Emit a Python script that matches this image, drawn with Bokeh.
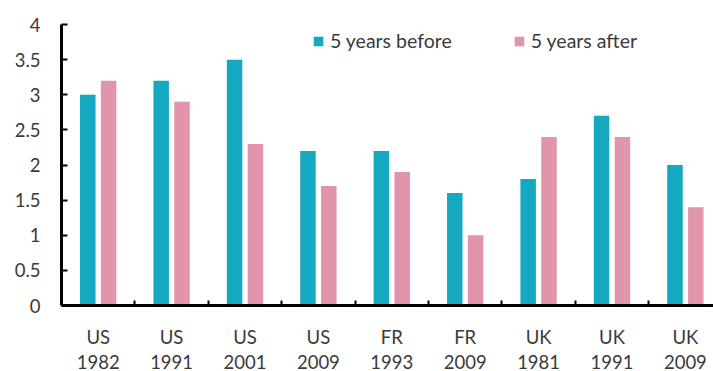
from bokeh.plotting import figure
from bokeh.models import FixedTicker, Legend, LegendItem, ColumnDataSource, LinearAxis
from bokeh.embed import file_html
from bokeh.resources import INLINE

countries = ["US", "US", "US", "US", "FR", "FR", "UK", "UK", "UK"]
years = ["1982", "1991", "2001", "2009", "1993", "2009", "1981", "1991", "2009"]
before = [3.0, 3.2, 3.5, 2.2, 2.2, 1.6, 1.8, 2.7, 2.0]
after = [3.2, 2.9, 2.3, 1.7, 1.9, 1.0, 2.4, 2.4, 1.4]
y_ticks = [0, 0.5, 1, 1.5, 2, 2.5, 3, 3.5, 4]
y_labels = ["0", "0.5", "1", "1.5", "2", "2.5", "3", "3.5", "4"]

TEAL = "#14A9C0"
PINK = "#E195AB"
TXT = "#3a3a3a"
FONT = "Lato"

n = len(countries)
centers = [i + 0.5 for i in range(n)]
src = ColumnDataSource(dict(
    xb=[c - 0.142 for c in centers],
    xa=[c + 0.142 for c in centers],
    before=before, after=after))

p = figure(width=713, height=371, output_backend="svg", toolbar_location=None,
           x_range=(0, 8.883), y_range=(0, 4),
           min_border_left=61, min_border_right=0, min_border_top=24,
           min_border_bottom=65)
p.outline_line_color = None
p.xgrid.visible = False
p.ygrid.visible = False
p.background_fill_color = "white"
p.border_fill_color = "white"

rb = p.vbar(x="xb", top="before", width=0.211, source=src, fill_color=TEAL, line_color=None)
ra = p.vbar(x="xa", top="after", width=0.211, source=src, fill_color=PINK, line_color=None)

# x axis (country line)
xa = p.xaxis[0]
xa.ticker = FixedTicker(ticks=centers, minor_ticks=list(range(1, n)))
xa.major_label_overrides = {c: lab for c, lab in zip(centers, countries)}
xa.major_tick_line_color = None
xa.major_tick_in = 0
xa.major_tick_out = 0
xa.minor_tick_in = 5
xa.minor_tick_out = 0
xa.minor_tick_line_width = 2
xa.minor_tick_line_color = "black"
xa.axis_line_width = 3
xa.axis_line_color = "black"
xa.major_label_text_font = FONT
xa.major_label_text_font_size = "18.5px"
xa.major_label_text_color = TXT
xa.major_label_text_line_height = 1.0
xa.major_label_standoff = 20

# second x axis (year line)
xb = LinearAxis(ticker=FixedTicker(ticks=centers),
                major_label_overrides={c: lab for c, lab in zip(centers, years)})
xb.axis_line_color = None
xb.major_tick_line_color = None
xb.minor_tick_line_color = None
xb.major_tick_in = 0
xb.major_tick_out = 0
xb.minor_tick_in = 0
xb.minor_tick_out = 0
xb.major_label_text_font = FONT
xb.major_label_text_font_size = "18.5px"
xb.major_label_text_color = TXT
xb.major_label_text_line_height = 1.0
xb.major_label_standoff = 4
p.add_layout(xb, "below")

# y axis
ya = p.yaxis[0]
ya.ticker = FixedTicker(ticks=y_ticks)
ya.major_label_overrides = {t: l for t, l in zip(y_ticks, y_labels)}
ya.major_tick_in = 6
ya.major_tick_out = 0
ya.major_tick_line_width = 2
ya.minor_tick_line_color = None
ya.axis_line_width = 3
ya.axis_line_color = "black"
ya.major_label_text_font = FONT
ya.major_label_text_font_size = "18.5px"
ya.major_label_text_color = TXT
ya.major_label_standoff = 21

legend = Legend(items=[LegendItem(label="5 years before", renderers=[rb]),
                       LegendItem(label="5 years after", renderers=[ra])],
                orientation="horizontal", location=(251, 253),
                glyph_width=12, glyph_height=12, label_standoff=6,
                spacing=61, padding=0, margin=0,
                border_line_color=None, background_fill_alpha=0,
                label_text_font=FONT, label_text_font_size="19.5px",
                label_text_color=TXT, label_height=20)
p.add_layout(legend, "center")

open("out.html", "w").write(file_html(p, INLINE))
